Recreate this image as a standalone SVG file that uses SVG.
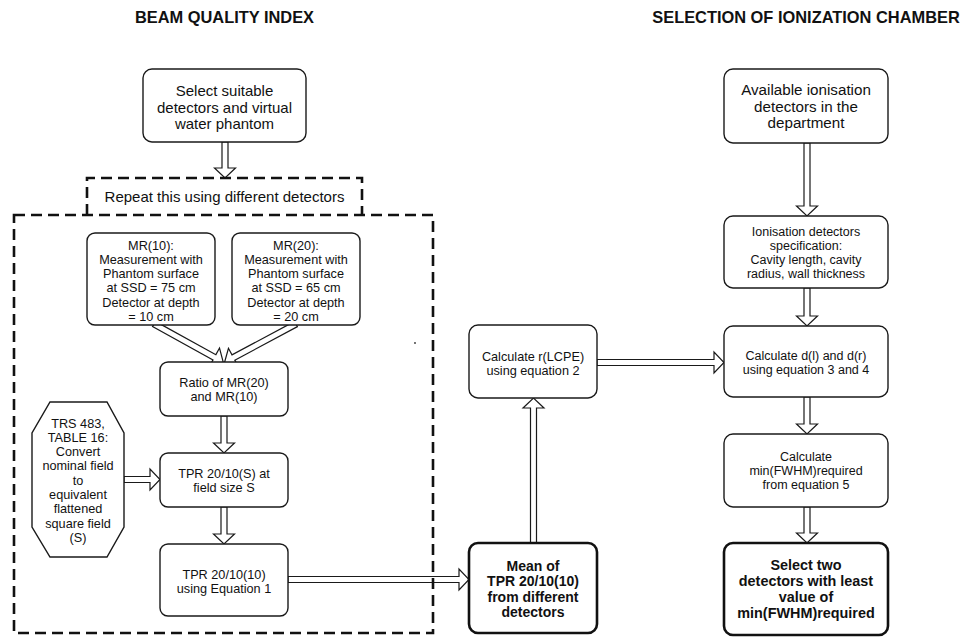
<svg xmlns="http://www.w3.org/2000/svg" width="960" height="637" viewBox="0 0 960 637">
<style>
text{font-family:"Liberation Sans",Arial,sans-serif;fill:#111;text-anchor:middle}
.t{font-size:12.7px}
.m{font-size:15px}
.b{font-weight:bold}
.title{font-size:16.4px;font-weight:bold}
.box{fill:#fff;stroke:#1a1a1a;stroke-width:1.4}
.bold{fill:#fff;stroke:#111;stroke-width:2.6}
.arr{fill:#fff;stroke:#1a1a1a;stroke-width:1.2;stroke-linejoin:miter}
.dash{fill:none;stroke:#111;stroke-width:2.6;stroke-dasharray:11 6}
</style>
<rect width="960" height="637" fill="#fff"/>
<text class="title" x="224.5" y="23">BEAM QUALITY INDEX</text>
<text class="title" x="806" y="23">SELECTION OF IONIZATION CHAMBER</text>

<g id="connectors">
<polygon class="arr" points="222,142 228,142 228,168 235.5,168 225,178 214.5,168 222,168"/>
<g transform="translate(154,324) rotate(28.84)"><polygon class="arr" points="0,-3 69,-3 69,-10.5 79,0 69,10.5 69,3 0,3"/></g>
<g transform="translate(296,324) rotate(151.84)"><polygon class="arr" points="0,-3 71,-3 71,-10.5 81,0 71,10.5 71,3 0,3"/></g>
<polygon class="arr" points="221,416 227,416 227,443 234.5,443 224,453 213.5,443 221,443"/>
<polygon class="arr" points="221,507 227,507 227,534 234.5,534 224,544 213.5,534 221,534"/>
<polygon class="arr" points="124,476.5 150,476.5 150,469 160,479.5 150,490 150,482.5 124,482.5"/>
<polygon class="arr" points="288,576.5 459,576.5 459,569 469,579.5 459,590 459,582.5 288,582.5"/>
<polygon class="arr" points="530.5,543 536.5,543 536.5,408 544,408 533.5,398 523,408 530.5,408"/>
<polygon class="arr" points="597,359.5 714,359.5 714,352 724,362.5 714,373 714,365.5 597,365.5"/>
<polygon class="arr" points="804,143 810,143 810,206 817.5,206 807,216 796.5,206 804,206"/>
<polygon class="arr" points="804,288 810,288 810,316 817.5,316 807,326 796.5,316 804,316"/>
<polygon class="arr" points="804,397 810,397 810,424 817.5,424 807,434 796.5,424 804,424"/>
<polygon class="arr" points="804,507 810,507 810,533 817.5,533 807,543 796.5,533 804,533"/>
</g>

<g id="repeat-group">
<rect class="dash" x="14" y="215" width="419" height="418"/>
<path class="dash" d="M87,215 V178 H362 V215"/>
<text class="m" x="224.5" y="202">Repeat this using different detectors</text>
</g>

<g id="select-detectors">
<rect class="box" x="143" y="69" width="163" height="73" rx="9"/>
<text class="m" x="224.5" y="96">Select suitable</text>
<text class="m" x="224.5" y="112.5">detectors and virtual</text>
<text class="m" x="224.5" y="129">water phantom</text>
</g>

<g id="mr10">
<rect class="box" x="87" y="233" width="128" height="92" rx="8"/>
<text class="t" x="151" y="249.5">MR(10):</text>
<text class="t" x="151" y="263.8">Measurement with</text>
<text class="t" x="151" y="278.1">Phantom surface</text>
<text class="t" x="151" y="292.4">at SSD = 75 cm</text>
<text class="t" x="151" y="306.7">Detector at depth</text>
<text class="t" x="151" y="321">= 10 cm</text>
</g>

<g id="mr20">
<rect class="box" x="232" y="233" width="128" height="92" rx="8"/>
<text class="t" x="296" y="249.5">MR(20):</text>
<text class="t" x="296" y="263.8">Measurement with</text>
<text class="t" x="296" y="278.1">Phantom surface</text>
<text class="t" x="296" y="292.4">at SSD = 65 cm</text>
<text class="t" x="296" y="306.7">Detector at depth</text>
<text class="t" x="296" y="321">= 20 cm</text>
</g>

<g id="ratio">
<rect class="box" x="160" y="362" width="128" height="54" rx="8"/>
<text class="t" x="224" y="386.5">Ratio of MR(20)</text>
<text class="t" x="224" y="401">and MR(10)</text>
</g>

<g id="trs483">
<polygon class="box" points="50,402 107,402 124,433 124,527 107,557 50,557 32,527 32,433"/>
<text class="t" x="78" y="427.5">TRS 483,</text>
<text class="t" x="78" y="441.8">TABLE 16:</text>
<text class="t" x="78" y="456">Convert</text>
<text class="t" x="78" y="470.4">nominal field</text>
<text class="t" x="78" y="484.7">to</text>
<text class="t" x="78" y="499">equivalent</text>
<text class="t" x="78" y="513.3">flattened</text>
<text class="t" x="78" y="527.6">square field</text>
<text class="t" x="78" y="542">(S)</text>
</g>

<g id="tpr-s">
<rect class="box" x="160" y="453" width="128" height="54" rx="8"/>
<text class="t" x="224" y="478">TPR 20/10(S) at</text>
<text class="t" x="224" y="492">field size S</text>
</g>

<g id="tpr-10">
<rect class="box" x="160" y="544" width="128" height="72" rx="8"/>
<text class="t" x="224" y="578.5">TPR 20/10(10)</text>
<text class="t" x="224" y="592.5">using Equation 1</text>
</g>

<g id="mean-tpr">
<rect class="bold" x="469" y="543" width="128" height="90" rx="9"/>
<text class="b" font-size="14" x="533" y="571">Mean of</text>
<text class="b" font-size="14" x="533" y="586">TPR 20/10(10)</text>
<text class="b" font-size="14" x="533" y="601.5">from different</text>
<text class="b" font-size="14" x="533" y="616.5">detectors</text>
</g>

<g id="r-lcpe">
<rect class="box" x="469" y="325" width="128" height="73" rx="9"/>
<text class="t" x="533" y="361">Calculate r(LCPE)</text>
<text class="t" x="533" y="375">using equation 2</text>
</g>

<circle cx="415" cy="343" r="0.9" fill="#333"/>

<g id="available">
<rect class="box" x="724" y="69" width="164" height="74" rx="9"/>
<text font-size="15.2" x="806" y="95">Available ionisation</text>
<text font-size="15.2" x="806" y="111.5">detectors in the</text>
<text font-size="15.2" x="806" y="127.5">department</text>
</g>

<g id="spec">
<rect class="box" x="724" y="216" width="164" height="72" rx="9"/>
<text font-size="12.5" x="806" y="236">Ionisation detectors</text>
<text font-size="12.5" x="806" y="250">specification:</text>
<text font-size="12.5" x="806" y="264">Cavity length, cavity</text>
<text font-size="12.5" x="806" y="278">radius, wall thickness</text>
</g>

<g id="calc-d">
<rect class="box" x="724" y="326" width="164" height="71" rx="9"/>
<text font-size="12.5" x="806" y="359.5">Calculate d(l) and d(r)</text>
<text font-size="12.5" x="806" y="373.5">using equation 3 and 4</text>
</g>

<g id="calc-min">
<rect class="box" x="724" y="434" width="164" height="73" rx="9"/>
<text font-size="12.5" x="806" y="461">Calculate</text>
<text font-size="12.5" x="806" y="475">min(FWHM)required</text>
<text font-size="12.5" x="806" y="489">from equation 5</text>
</g>

<g id="select-two">
<rect class="bold" x="724" y="543" width="164" height="92" rx="9"/>
<text class="b" font-size="14.4" x="806" y="570">Select two</text>
<text class="b" font-size="14.4" x="806" y="586">detectors with least</text>
<text class="b" font-size="14.4" x="806" y="601.7">value of</text>
<text class="b" font-size="14.4" x="806" y="617.7">min(FWHM)required</text>
</g>
</svg>
